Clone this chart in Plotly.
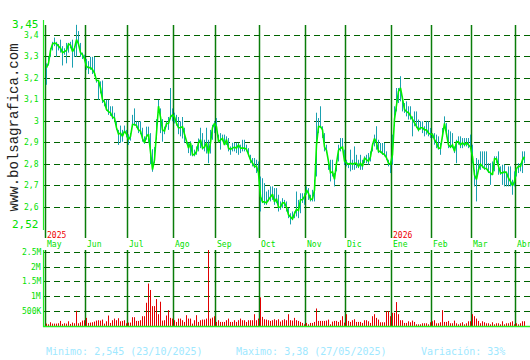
import plotly.graph_objects as go

# ---------------- data ----------------
months = ["May", "Jun", "Jul", "Ago", "Sep", "Oct", "Nov", "Dic", "Ene", "Feb", "Mar", "Abr"]
month_sessions = [20, 21, 23, 21, 22, 23, 20, 23, 20, 20, 22, 5]
years = ["2025", "2026"]
year_month_idx = [0, 8]

close = [
    3.25, 3.27, 3.33, 3.36, 3.365, 3.36, 3.35, 3.34, 3.32, 3.325, 3.33, 3.36, 3.355, 3.325, 3.34, 3.38, 3.36, 3.32, 3.31, 3.29,
    3.255, 3.25, 3.25, 3.24, 3.225, 3.19, 3.19, 3.155, 3.10, 3.09, 3.055, 3.045, 3.04, 3.02, 3.015, 2.97, 2.94, 2.945, 2.93, 2.955, 2.94,
    2.915, 2.93, 2.985, 2.985, 2.98, 2.96, 2.955, 2.92, 2.90, 2.93, 2.94, 2.87, 2.775, 2.82, 2.955, 3.07, 3.02, 2.96, 2.955, 2.99, 2.99, 3.02, 3.03,
    3.02, 2.99, 2.97, 2.97, 2.975, 2.94, 2.90, 2.875, 2.90, 2.845, 2.845, 2.86, 2.90, 2.915, 2.875, 2.88, 2.90, 2.85, 2.90, 2.97, 2.99,
    2.975, 2.905, 2.915, 2.92, 2.89, 2.915, 2.875, 2.87, 2.875, 2.88, 2.875, 2.89, 2.875, 2.875, 2.875, 2.87, 2.845, 2.82, 2.805, 2.79, 2.79, 2.76,
    2.65, 2.625, 2.625, 2.62, 2.635, 2.65, 2.66, 2.625, 2.64, 2.60, 2.60, 2.62, 2.62, 2.60, 2.565, 2.555, 2.545, 2.57, 2.59, 2.585, 2.635, 2.635, 2.65,
    2.68, 2.665, 2.635, 2.64, 2.68, 2.89, 2.975, 2.975, 2.96, 2.88, 2.865, 2.805, 2.76, 2.765, 2.73, 2.805, 2.865, 2.875, 2.88, 2.815,
    2.805, 2.80, 2.805, 2.80, 2.805, 2.805, 2.79, 2.805, 2.79, 2.83, 2.82, 2.815, 2.835, 2.89, 2.92, 2.90, 2.86, 2.86, 2.85, 2.845, 2.83, 2.805, 2.80,
    2.845, 3.01, 3.065, 3.14, 3.155, 3.095, 3.055, 3.045, 3.04, 3.025, 3.01, 2.99, 2.975, 2.96, 2.97, 2.97, 2.96, 2.96, 2.945, 2.94,
    2.94, 2.915, 2.90, 2.875, 2.875, 2.945, 2.99, 2.94, 2.89, 2.88, 2.89, 2.86, 2.905, 2.905, 2.89, 2.90, 2.89, 2.90, 2.89, 2.88,
    2.835, 2.75, 2.73, 2.775, 2.80, 2.79, 2.78, 2.78, 2.765, 2.76, 2.75, 2.825, 2.825, 2.79, 2.76, 2.76, 2.765, 2.76, 2.735, 2.72, 2.70, 2.72,
    2.78, 2.79, 2.79, 2.82, 2.835,
]

high = [
    3.27, 3.30, 3.34, 3.37, 3.39, 3.37, 3.36, 3.38, 3.35, 3.34, 3.365, 3.365, 3.37, 3.38, 3.35, 3.45, 3.42, 3.365, 3.32, 3.31,
    3.29, 3.28, 3.30, 3.30, 3.30, 3.20, 3.19, 3.186, 3.19, 3.10, 3.10, 3.10, 3.07, 3.07, 3.04, 3.0, 2.96, 2.98, 2.96, 2.98, 2.96,
    2.94, 2.945, 3.03, 3.06, 3.0, 3.0, 3.0, 2.97, 2.93, 2.975, 2.975, 2.945, 2.87, 2.88, 3.01, 3.10, 3.06, 3.01, 2.975, 3.0, 3.02, 3.155, 3.06,
    3.04, 3.03, 3.02, 3.0, 3.02, 2.97, 2.91, 2.90, 2.907, 2.89, 2.868, 2.883, 2.92, 2.97, 2.945, 2.914, 2.97, 2.914, 2.96, 2.984, 3.0,
    3.015, 2.938, 2.945, 2.938, 2.938, 2.93, 2.922, 2.883, 2.90, 2.90, 2.90, 2.90, 2.891, 2.914, 2.914, 2.891, 2.875, 2.844, 2.829, 2.829, 2.821, 2.813,
    2.743, 2.735, 2.712, 2.673, 2.681, 2.697, 2.697, 2.689, 2.689, 2.658, 2.627, 2.642, 2.634, 2.627, 2.596, 2.572, 2.58, 2.58, 2.673, 2.634, 2.665, 2.665, 2.665,
    2.697, 2.689, 2.658, 2.681, 2.728, 3.04, 3.015, 3.07, 2.977, 2.945, 2.891, 2.821, 2.821, 2.821, 2.759, 2.813, 2.891, 2.922, 2.922, 2.868,
    2.821, 2.805, 2.868, 2.821, 2.883, 2.844, 2.821, 2.844, 2.821, 2.837, 2.844, 2.852, 2.86, 2.899, 2.938, 2.977, 2.914, 2.899, 2.899, 2.899, 2.86, 2.821, 2.813,
    2.938, 3.07, 3.155, 3.155, 3.21, 3.116, 3.085, 3.093, 3.07, 3.07, 3.023, 3.046, 3.046, 3.008, 3.0, 3.0, 2.977, 3.0, 3.0, 2.969,
    2.945, 2.945, 2.938, 2.93, 2.899, 2.969, 3.023, 2.992, 2.961, 2.953, 2.945, 2.883, 2.914, 2.93, 2.93, 2.922, 2.922, 2.922, 2.922, 2.938,
    2.891, 2.774, 2.829, 2.821, 2.86, 2.86, 2.86, 2.86, 2.805, 2.805, 2.813, 2.837, 2.837, 2.86, 2.79, 2.798, 2.798, 2.767, 2.79, 2.79, 2.728, 2.767,
    2.782, 2.805, 2.805, 2.86, 2.86,
]

low = [
    3.17, 3.26, 3.30, 3.33, 3.35, 3.30, 3.33, 3.32, 3.26, 3.31, 3.27, 3.32, 3.34, 3.25, 3.30, 3.30, 3.35, 3.30, 3.29, 3.28,
    3.24, 3.22, 3.24, 3.22, 3.21, 3.18, 3.10, 3.13, 3.085, 3.07, 3.05, 3.03, 3.025, 3.01, 3.0, 2.96, 2.89, 2.90, 2.905, 2.95, 2.925,
    2.89, 2.91, 2.98, 2.98, 2.97, 2.945, 2.94, 2.905, 2.895, 2.915, 2.90, 2.80, 2.765, 2.805, 2.915, 3.04, 2.945, 2.905, 2.94, 2.975, 2.96, 3.01, 3.0,
    2.99, 2.98, 2.94, 2.93, 2.92, 2.90, 2.895, 2.852, 2.84, 2.837, 2.837, 2.844, 2.86, 2.875, 2.868, 2.86, 2.85, 2.805, 2.85, 2.914, 2.945,
    2.96, 2.90, 2.868, 2.907, 2.89, 2.89, 2.86, 2.844, 2.86, 2.86, 2.852, 2.844, 2.852, 2.86, 2.86, 2.86, 2.837, 2.805, 2.79, 2.782, 2.759, 2.743,
    2.58, 2.619, 2.611, 2.611, 2.627, 2.627, 2.634, 2.611, 2.619, 2.58, 2.588, 2.596, 2.603, 2.58, 2.549, 2.518, 2.541, 2.549, 2.557, 2.549, 2.572, 2.62, 2.611,
    2.658, 2.634, 2.627, 2.627, 2.627, 2.743, 2.945, 2.969, 2.922, 2.86, 2.852, 2.774, 2.72, 2.743, 2.697, 2.767, 2.813, 2.86, 2.868, 2.798,
    2.79, 2.782, 2.767, 2.774, 2.774, 2.782, 2.782, 2.774, 2.774, 2.805, 2.805, 2.798, 2.813, 2.86, 2.883, 2.868, 2.852, 2.852, 2.844, 2.837, 2.821, 2.79, 2.759,
    2.798, 2.977, 3.046, 3.085, 3.093, 3.046, 3.039, 3.023, 3.008, 3.008, 2.93, 2.977, 2.969, 2.953, 2.961, 2.945, 2.93, 2.938, 2.93, 2.922,
    2.922, 2.891, 2.875, 2.868, 2.844, 2.922, 2.969, 2.93, 2.875, 2.875, 2.875, 2.852, 2.805, 2.891, 2.875, 2.875, 2.883, 2.883, 2.875, 2.875,
    2.805, 2.697, 2.627, 2.767, 2.774, 2.782, 2.774, 2.774, 2.759, 2.704, 2.751, 2.767, 2.805, 2.751, 2.751, 2.704, 2.697, 2.697, 2.697, 2.697, 2.658, 2.697,
    2.743, 2.759, 2.767, 2.759, 2.805,
]

volume_k = [
    91, 68, 136, 91, 91, 91, 102, 182, 80, 102, 91, 170, 80, 125, 102, 523, 102, 136, 193, 205,
    284, 114, 125, 136, 159, 193, 205, 193, 227, 91, 170, 364, 114, 205, 261, 205, 273, 170, 182, 205, 102,
    125, 125, 307, 307, 182, 182, 205, 341, 341, 795, 1443, 1227, 682, 682, 920, 409, 830, 193, 205, 364, 545, 284, 261,
    205, 148, 261, 261, 205, 148, 375, 261, 261, 91, 205, 375, 148, 205, 227, 227, 261, 2600, 261, 295, 341,
    148, 205, 148, 148, 148, 205, 261, 148, 148, 205, 148, 205, 261, 205, 205, 148, 205, 205, 205, 409, 205, 261,
    977, 318, 239, 227, 205, 182, 205, 239, 205, 239, 159, 205, 239, 205, 409, 205, 193, 284, 205, 182, 148, 114, 68,
    114, 68, 114, 114, 148, 602, 182, 182, 182, 182, 193, 227, 68, 159, 182, 182, 148, 205, 341, 125,
    409, 182, 148, 205, 239, 148, 148, 148, 114, 205, 205, 170, 114, 341, 409, 284, 227, 136, 136, 136, 511, 511, 341,
    455, 455, 818, 409, 205, 205, 114, 114, 170, 136, 193, 148, 68, 68, 68, 102, 102, 102, 68, 136,
    170, 205, 102, 102, 136, 545, 148, 148, 182, 102, 102, 193, 102, 68, 102, 136, 68, 102, 170, 170,
    409, 341, 261, 182, 102, 170, 136, 102, 102, 68, 136, 68, 102, 102, 68, 170, 68, 102, 102, 136, 170, 68,
    102, 68, 102, 170, 170,
]

price_ticks = [3.45, 3.4, 3.3, 3.2, 3.1, 3.0, 2.9, 2.8, 2.7, 2.6, 2.52]
price_labels = ["3,45", "3,4", "3,3", "3,2", "3,1", "3", "2,9", "2,8", "2,7", "2,6", "2,52"]
vol_ticks = [500e3, 1e6, 1.5e6, 2e6, 2.5e6]
vol_labels = ["500K", "1M", "1.5M", "2M", "2.5M"]

stats_text = ["Minimo: 2,545 (23/10/2025)", "Maximo: 3,38 (27/05/2025)", "Variación: 33%"]
watermark = "www.bolsagrafica.com"

# ---------------- layout helpers ----------------
W, H = 530, 360
def pxx(p):
    return p / W
def pxy(p):
    return 1 - p / H

n = len(close)
assert len(high) == n and len(low) == n and len(volume_k) == n, (len(high), len(low), len(volume_k))
idx = list(range(n))

month_start = []
acc = 0
for m in month_sessions:
    month_start.append(acc)
    acc += m

FONT = "DejaVu Sans Mono"
LIME = "#00e000"
GRID = "#006400"
VLINE = "#0a7d0a"
TEAL = "#1aa0b0"
RED = "#e00000"

# ---------------- traces ----------------
hx, hy = [], []
for i in idx:
    hx += [i, i, None]
    hy += [low[i], high[i], None]

vx, vy = [], []
for i in idx:
    vx += [i, i, None]
    vy += [0, volume_k[i] * 1000, None]

fig = go.Figure()
fig.add_trace(go.Scatter(x=hx, y=hy, mode="lines", line=dict(color=TEAL, width=1),
                         xaxis="x", yaxis="y", hoverinfo="skip", showlegend=False))
fig.add_trace(go.Scatter(x=idx, y=close, mode="lines", line=dict(color="#00ee00", width=1.6),
                         xaxis="x", yaxis="y", showlegend=False))
fig.add_trace(go.Scatter(x=vx, y=vy, mode="lines", line=dict(color=RED, width=1),
                         xaxis="x2", yaxis="y2", hoverinfo="skip", showlegend=False))

xr = [(44 - 46.5) / 2, (530 - 46.5) / 2]

shapes = []
for s in month_start:
    shapes.append(dict(type="line", xref="x", yref="paper", x0=s - 0.5, x1=s - 0.5,
                       y0=pxy(238), y1=pxy(25), line=dict(color=VLINE, width=1.5), layer="below"))
    shapes.append(dict(type="line", xref="x2", yref="paper", x0=s - 0.5, x1=s - 0.5,
                       y0=pxy(326), y1=pxy(250), line=dict(color=VLINE, width=1.5), layer="below"))
shapes.append(dict(type="line", xref="paper", yref="paper", x0=pxx(43.5), x1=pxx(43.5),
                   y0=pxy(230), y1=pxy(20), line=dict(color="#22ee22", width=1.2)))
shapes.append(dict(type="line", xref="paper", yref="paper", x0=pxx(43.5), x1=pxx(43.5),
                   y0=pxy(327), y1=pxy(250), line=dict(color="#22ee22", width=1.2)))
shapes.append(dict(type="line", xref="paper", yref="paper", x0=pxx(43), x1=1,
                   y0=pxy(326.5), y1=pxy(326.5), line=dict(color="#22ee22", width=1.5)))

ann = []
for v, t in zip(price_ticks, price_labels):
    big = t in ("3,45", "2,52")
    ann.append(dict(x=pxx(41), xref="paper", y=v, yref="y", text=t, showarrow=False,
                    xanchor="right", yanchor="middle",
                    font=dict(family=FONT, size=11 if big else 8, color=LIME)))
for v, t in zip(vol_ticks, vol_labels):
    ann.append(dict(x=pxx(43), xref="paper", y=v, yref="y2", text=t, showarrow=False,
                    xanchor="right", yanchor="middle",
                    font=dict(family=FONT, size=8, color=LIME)))
for s, t in zip(month_start, months):
    ann.append(dict(x=s - 0.5, xref="x", y=pxy(244), yref="paper", text=t, showarrow=False,
                    xanchor="left", yanchor="middle", xshift=-1,
                    font=dict(family=FONT, size=8, color=LIME)))
for mi, t in zip(year_month_idx, years):
    ann.append(dict(x=month_start[mi] - 0.5, xref="x", y=pxy(235.5), yref="paper", text=t,
                    showarrow=False, xanchor="left", yanchor="middle", xshift=-1,
                    font=dict(family=FONT, size=8, color="#ee0000")))
for xp, t in zip([44, 234, 419], stats_text):
    ann.append(dict(x=pxx(xp), xref="paper", y=pxy(351.5), yref="paper", text=t, showarrow=False,
                    xanchor="left", yanchor="middle",
                    font=dict(family=FONT, size=10, color="#a0e8ff")))
ann.append(dict(x=pxx(13), xref="paper", y=pxy(127.5), yref="paper", text=watermark,
                showarrow=False, textangle=-90, xanchor="center", yanchor="middle",
                font=dict(family="Liberation Mono", size=14, color="#222222")))

fig.update_layout(
    width=W, height=H,
    margin=dict(l=0, r=0, t=0, b=0),
    paper_bgcolor="white", plot_bgcolor="white",
    showlegend=False,
    xaxis=dict(domain=[pxx(44), 1], range=xr, visible=False, fixedrange=True),
    yaxis=dict(domain=[pxy(224.5), pxy(24.55)], range=[2.5195, 3.4505], tickvals=price_ticks,
               showticklabels=False, showgrid=True, gridcolor=GRID, gridwidth=1,
               griddash="6px,4px", zeroline=False, showline=False, ticks="", fixedrange=True),
    xaxis2=dict(domain=[pxx(44), 1], range=xr, visible=False, anchor="y2", fixedrange=True),
    yaxis2=dict(domain=[pxy(326.3), pxy(250)], range=[0, 2.578e6], tickvals=vol_ticks,
                showticklabels=False, showgrid=True, gridcolor=GRID, gridwidth=1,
                griddash="6px,4px", zeroline=False, showline=False, ticks="", anchor="x2",
                fixedrange=True),
    shapes=shapes,
    annotations=ann,
)

fig.write_html("out.html", config={"displayModeBar": False})
